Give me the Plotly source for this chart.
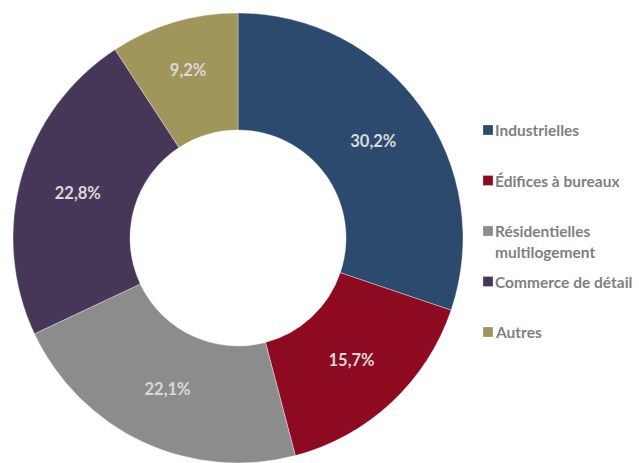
import plotly.graph_objects as go

# Breakdown by property type (percent of total)
categories = [
    "Industrielles",
    "Édifices à bureaux",
    "Résidentielles multilogement",
    "Commerce de détail",
    "Autres",
]
shares = [30.2, 15.7, 22.1, 22.8, 9.2]
colors = ["#2c4a6e", "#8e0a21", "#8c8c8c", "#463758", "#a0955a"]

W, H = 639, 463
FONT = "Lato, 'Open Sans', sans-serif"

fig = go.Figure(
    go.Pie(
        labels=categories,
        values=shares,
        hole=0.48,
        sort=False,
        direction="clockwise",
        rotation=0,
        marker=dict(colors=colors, line=dict(color="rgba(255,255,255,0.35)", width=1)),
        texttemplate="<b>%{value:.1f}%</b>",
        textposition="inside",
        insidetextorientation="horizontal",
        textfont=dict(family=FONT, size=16.5, color="#d9d9d9"),
        domain=dict(x=[13 / W, 463 / W], y=[0, 1 - 13 / H]),
        showlegend=False,
        hoverinfo="label+percent",
    )
)

# Legend drawn at the right: colored square + bold grey label per category
legend_x0 = 483
legend_y0 = 130
legend_step = 50.5
line_gap = 21
sq = 10
shapes, annotations = [], []
for i, (name, col) in enumerate(zip(categories, colors)):
    y = legend_y0 + i * legend_step
    shapes.append(dict(
        type="rect", xref="paper", yref="paper",
        x0=legend_x0 / W, x1=(legend_x0 + sq) / W,
        y0=1 - (y + sq / 2) / H, y1=1 - (y - sq / 2) / H,
        fillcolor=col, line=dict(color="rgba(255,255,255,0.5)", width=0.5),
    ))
    parts = name.split(" ", 1) if name.startswith("Résidentielles") else [name]
    for k, part in enumerate(parts):
        annotations.append(dict(
            xref="paper", yref="paper",
            x=(legend_x0 + sq) / W, y=1 - (y + k * line_gap) / H,
            xanchor="left", yanchor="middle", align="left",
            width=W - legend_x0 - sq - 3, height=22,
            text=f"<b>{part}</b>", showarrow=False,
            font=dict(family=FONT, size=15.5, color="#7f7f7f"),
        ))

fig.update_layout(
    width=W, height=H,
    margin=dict(l=0, r=0, t=0, b=0),
    paper_bgcolor="white", plot_bgcolor="white",
    separators=", ",
    shapes=shapes,
    annotations=annotations,
)

fig.write_html("out.html")
